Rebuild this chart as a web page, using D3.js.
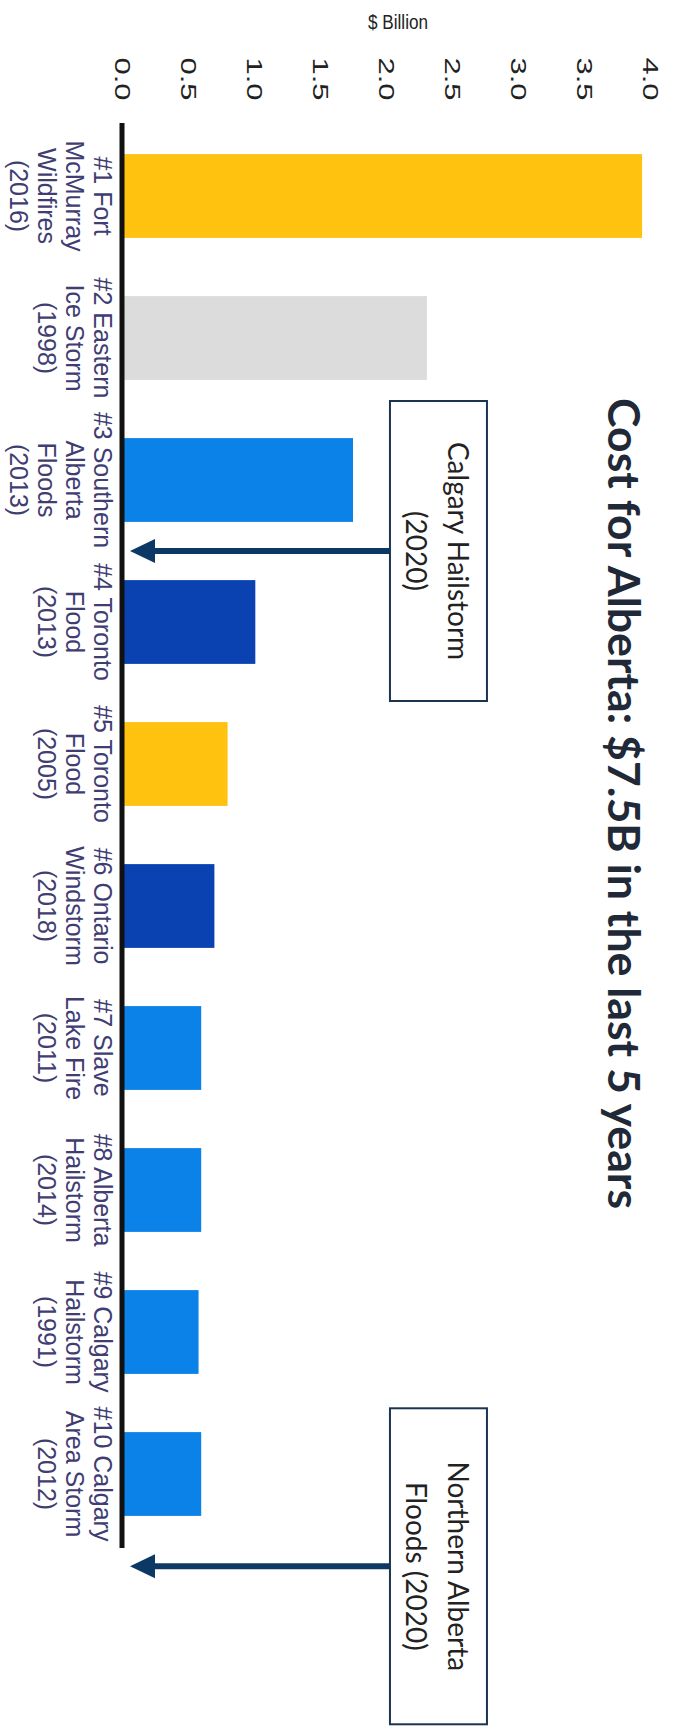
<!DOCTYPE html>
<html>
<head>
<meta charset="utf-8">
<script src="https://cdn.jsdelivr.net/npm/d3@7"></script>
<style>
  body { margin: 0; background: #fff; }
  svg { display: block; }
</style>
</head>
<body>
<div id="chart"></div>
<script>
// data
const categories = [
  "#1 Fort|McMurray|Wildfires|(2016)",
  "#2 Eastern|Ice Storm|(1998)",
  "#3 Southern|Alberta|Floods|(2013)",
  "#4 Toronto|Flood|(2013)",
  "#5 Toronto|Flood|(2005)",
  "#6 Ontario|Windstorm|(2018)",
  "#7 Slave|Lake Fire|(2011)",
  "#8 Alberta|Hailstorm|(2014)",
  "#9 Calgary|Hailstorm|(1991)",
  "#10 Calgary|Area Storm|(2012)"
];
const costs = [3.94, 2.31, 1.75, 1.01, 0.8, 0.7, 0.6, 0.6, 0.58, 0.6];
const tickValues = [0, 0.5, 1, 1.5, 2, 2.5, 3, 3.5, 4];
const calloutLabels = ["Calgary Hailstorm|(2020)", "Northern Alberta|Floods (2020)"];
const calloutRanks = [3.5, 10.65];   // where each 2020 event would sit in the ranking
const calloutValue = 2.03;           // callout boxes start at this $ value
const unitLabel = "$ Billion";
const chartTitle = "Cost for Alberta: $7.5B in the last 5 years";

const fills = ["#ffc20e", "#dcdcdc", "#0a82e8", "#0b42b2", "#ffc20e",
               "#0b42b2", "#0a82e8", "#0a82e8", "#0a82e8", "#0a82e8"];

const W = 673, H = 1726;
const svg = d3.select("#chart").append("svg")
  .attr("width", W).attr("height", H);

// chart is drawn rotated: values run left->right, categories top->bottom
const x = d3.scaleLinear().domain([0, 4]).range([122, 650]);
const y = d3.scaleBand().domain(categories)
  .range([125, 1545]).paddingInner(0.41).paddingOuter(0.205);

function rankY(r) {
  return y(categories[0]) + y.bandwidth() / 2 + (r - 1) * y.step();
}

// unit label
svg.append("text")
  .attr("x", 398).attr("y", 29)
  .attr("text-anchor", "middle")
  .attr("font-family", "'Liberation Sans', Arial, sans-serif")
  .attr("font-size", 20)
  .attr("fill", "#222")
  .attr("textLength", 60).attr("lengthAdjust", "spacingAndGlyphs")
  .text(unitLabel);

// value axis (ticks only, rotated labels)
const xAxis = svg.append("g")
  .attr("transform", "translate(0,79)")
  .call(d3.axisTop(x).tickValues(tickValues).tickSize(0).tickFormat(d3.format(".1f")));
xAxis.select(".domain").remove();
xAxis.selectAll("text")
  .attr("x", 0).attr("y", 0).attr("dy", "0.35em")
  .attr("transform", "rotate(90)")
  .style("text-anchor", "middle")
  .attr("font-family", "'Liberation Sans', Arial, sans-serif")
  .attr("font-size", 22)
  .attr("fill", "#222")
  .attr("textLength", 43).attr("lengthAdjust", "spacingAndGlyphs");

// bars
svg.selectAll(".bar")
  .data(costs)
  .enter().append("rect")
  .attr("class", "bar")
  .attr("x", x(0))
  .attr("y", (d, i) => y(categories[i]))
  .attr("width", d => x(d) - x(0))
  .attr("height", y.bandwidth())
  .attr("fill", (d, i) => fills[i]);

// baseline
svg.append("line")
  .attr("x1", x(0)).attr("x2", x(0))
  .attr("y1", y.range()[0] - 2).attr("y2", y.range()[1] + 3)
  .attr("stroke", "#111").attr("stroke-width", 5);

// category labels, rotated
const labels = svg.selectAll(".cat")
  .data(categories)
  .enter().append("text")
  .attr("class", "cat")
  .attr("transform", d => "translate(" + (x(0) - 28) + "," + (y(d) + y.bandwidth() / 2) + ") rotate(90)")
  .attr("text-anchor", "middle")
  .attr("font-family", "'Liberation Sans', Arial, sans-serif")
  .attr("font-size", 25)
  .attr("fill", "#403d72");
labels.each(function (d) {
  const t = d3.select(this);
  d.split("|").forEach((line, k) => {
    t.append("tspan").attr("x", 0).attr("dy", k === 0 ? 0 : 28).text(line);
  });
});

// callouts with arrows
const boxW = 97, boxH = [300, 316];
calloutLabels.forEach((lab, i) => {
  const cy = rankY(calloutRanks[i]);
  const bx = x(calloutValue);
  const g = svg.append("g");
  // arrow shaft + head
  const tip = x(0) + 8;
  g.append("line")
    .attr("x1", bx).attr("x2", tip + 20)
    .attr("y1", cy).attr("y2", cy)
    .attr("stroke", "#0c3866").attr("stroke-width", 6);
  g.append("path")
    .attr("d", "M" + tip + "," + cy + "L" + (tip + 25) + "," + (cy - 12) + "L" + (tip + 25) + "," + (cy + 12) + "Z")
    .attr("fill", "#0c3866");
  g.append("rect")
    .attr("x", bx).attr("y", cy - boxH[i] / 2)
    .attr("width", boxW).attr("height", boxH[i])
    .attr("fill", "#fff").attr("stroke", "#1b3450").attr("stroke-width", 2);
  const t = g.append("text")
    .attr("transform", "translate(" + (bx + boxW / 2) + "," + cy + ") rotate(90)")
    .attr("text-anchor", "middle")
    .attr("font-family", "Lato, 'Open Sans', sans-serif")
    .attr("font-size", 28)
    .attr("fill", "#222");
  lab.split("|").forEach((line, k) => {
    t.append("tspan").attr("x", 0).attr("y", k === 0 ? -10 : 32).text(line);
  });
});

// title, rotated
svg.append("text")
  .attr("transform", "translate(608,398) rotate(90)")
  .attr("font-family", "Lato, 'Open Sans', sans-serif")
  .attr("font-weight", "bold")
  .attr("font-size", 44)
  .attr("fill", "#1f2937")
  .attr("textLength", 811).attr("lengthAdjust", "spacingAndGlyphs")
  .text(chartTitle);
</script>
</body>
</html>
